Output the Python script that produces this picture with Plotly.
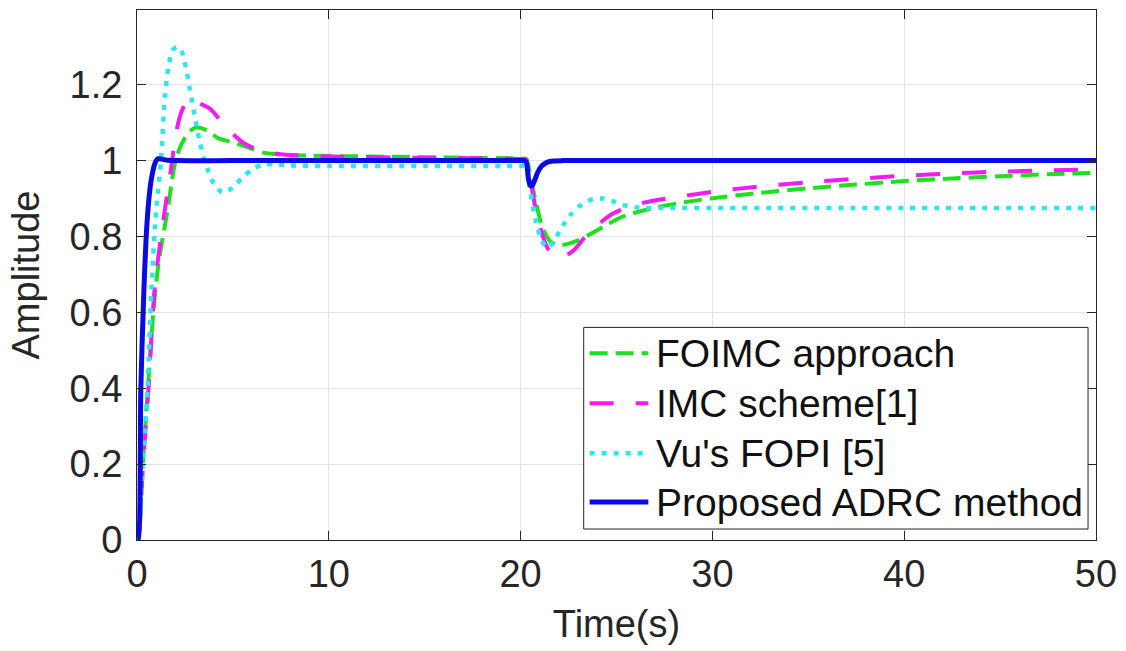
import plotly.graph_objects as go

# Step responses with a load disturbance applied at t = 20 s
t_foimc = [0, 0.05, 0.3, 0.57, 0.85, 1.1, 1.35, 1.6, 1.8, 1.97, 2.2, 2.5, 2.75, 3.05, 3.4, 3.8, 4.2, 4.7, 5.2, 5.9, 6.6, 7.5, 9, 12, 15, 18, 19.5, 20.0, 20.3,
           20.5, 20.8, 21.1, 21.5, 21.9, 22.4, 23.0, 23.6, 24.3, 25.2, 26.2, 27.2, 28.5, 30, 32.5, 35, 37.5, 40, 42.5, 45, 47.5, 50]
y_foimc = [0, 0, 0.2, 0.4, 0.6, 0.72, 0.8, 0.87, 0.94, 0.99, 1.03, 1.06, 1.077, 1.087, 1.085, 1.075, 1.06, 1.052, 1.045, 1.033, 1.021, 1.016, 1.013, 1.011, 1.009, 1.007, 1.006, 1.005, 1.004,
           0.96, 0.89, 0.83, 0.79, 0.777, 0.78, 0.79, 0.805, 0.825, 0.85, 0.866, 0.878, 0.89, 0.901, 0.915, 0.927, 0.937, 0.946, 0.953, 0.959, 0.964, 0.968]

t_imc = [0, 0.05, 0.3, 0.6, 0.93, 1.2, 1.45, 1.75, 2.0, 2.2, 2.45, 2.65, 2.9, 3.3, 3.8, 4.45, 5.0, 5.6, 6.1, 6.6, 7.3, 8.5, 10, 14, 18, 19.5, 20.0, 20.3,
         20.5, 20.8, 21.1, 21.4, 21.7, 22.0, 22.3, 22.8, 23.3, 24.0, 24.8, 25.6, 26.5, 28, 30, 32.5, 35, 37.5, 40, 42.5, 45, 47.5, 50]
y_imc = [0, 0, 0.19, 0.4, 0.67, 0.78, 0.87, 0.97, 1.06, 1.11, 1.145, 1.163, 1.16, 1.15, 1.137, 1.10, 1.07, 1.045, 1.033, 1.026, 1.018, 1.013, 1.011, 1.008, 1.006, 1.005, 1.004, 1.003,
         0.95, 0.87, 0.81, 0.77, 0.752, 0.745, 0.748, 0.765, 0.795, 0.83, 0.86, 0.877, 0.89, 0.903, 0.918, 0.932, 0.943, 0.952, 0.96, 0.966, 0.971, 0.974, 0.977]

t_fopi = [0, 0.05, 0.3, 0.55, 0.75, 1.0, 1.25, 1.45, 1.65, 1.85, 2.1, 2.35, 2.55, 2.75, 3.0, 3.27, 3.5, 3.7, 4.0, 4.45, 4.8, 5.2, 5.6, 6.1, 6.6, 7.2, 8.0, 10, 15, 19, 19.6, 20.0, 20.3,
          20.5, 20.8, 21.1, 21.4, 21.7, 22.1, 22.6, 23.2, 23.8, 24.3, 24.8, 25.4, 26.2, 27.5, 30, 40, 50]
y_fopi = [0, 0, 0.2, 0.4, 0.66, 0.87, 1.0, 1.166, 1.25, 1.29, 1.30, 1.285, 1.245, 1.19, 1.12, 1.05, 1.005, 0.974, 0.94, 0.916, 0.922, 0.94, 0.96, 0.98, 0.99, 0.99, 0.987, 0.986, 0.986, 0.986, 0.986, 0.986, 0.985,
          0.92, 0.84, 0.79, 0.77, 0.785, 0.82, 0.857, 0.885, 0.899, 0.9, 0.893, 0.882, 0.876, 0.875, 0.875, 0.875, 0.875]

t_adrc = [0, 0.05, 0.2, 0.36, 0.47, 0.57, 0.7, 0.8, 0.9, 1.0, 1.1, 1.3, 1.6, 2.0, 5, 10, 15, 19, 19.6, 20.0, 20.2, 20.3, 20.4, 20.5, 20.6, 20.75, 20.9, 21.1, 21.4, 21.7, 22.2, 23, 30, 40, 50]
y_adrc = [0, 0, 0.4, 0.66, 0.79, 0.87, 0.935, 0.965, 0.988, 1.0, 1.005, 1.004, 1.001, 1.0, 1.0, 1.0, 1.0, 1.0, 1.0, 1.0, 1.0, 0.995, 0.955, 0.935, 0.934, 0.95, 0.97, 0.986, 0.996, 0.999, 1.0, 1.0, 1.0, 1.0, 1.0]

names = ["FOIMC approach", "IMC scheme[1]", "Vu's FOPI [5]", "Proposed ADRC method"]
colors = ["#1fe01f", "#f21cf0", "#2ee6ee", "#0a0ae6"]
dashes = ["18px,8px", "24px,22px", "5px,7px", "solid"]
widths = [4, 4, 4.5, 5]
series = [(t_foimc, y_foimc), (t_imc, y_imc), (t_fopi, y_fopi), (t_adrc, y_adrc)]

FONT = "Liberation Sans, Arial, sans-serif"
AXIS_GREY = "#262626"
GRID_GREY = "#e3e3e3"

fig = go.Figure()
for (tx, ty), name, col, dsh, w in zip(series, names, colors, dashes, widths):
    fig.add_trace(go.Scatter(x=tx, y=ty, name=name, mode="lines",
                             line=dict(color=col, width=w, dash=dsh, shape="spline", smoothing=0.8),
                             showlegend=False))

axis_common = dict(
    showgrid=True, gridcolor=GRID_GREY, gridwidth=1,
    showline=True, linecolor=AXIS_GREY, linewidth=1, mirror="ticks",
    ticks="inside", ticklen=9, tickcolor=AXIS_GREY, tickwidth=1,
    zeroline=False,
    tickfont=dict(family=FONT, size=38, color=AXIS_GREY),
)

fig.update_xaxes(range=[0, 50], tickvals=[0, 10, 20, 30, 40, 50],
                 title=dict(text="Time(s)", font=dict(family=FONT, size=38, color=AXIS_GREY), standoff=16),
                 **axis_common)
fig.update_yaxes(range=[0, 1.397], tickvals=[0, 0.2, 0.4, 0.6, 0.8, 1, 1.2],
                 ticktext=["0", "0.2", "0.4", "0.6", "0.8", "1", "1.2"],
                 ticklabelstandoff=6,
                 title=dict(text="Amplitude", font=dict(family=FONT, size=38, color=AXIS_GREY), standoff=18),
                 **axis_common)

# Legend box drawn in paper coordinates of the plot area
LEG_X0, LEG_X1 = 0.4658, 0.9917
LEG_Y0, LEG_Y1 = 0.0207, 0.4011
ROW_Y = [0.3522, 0.2580, 0.1638, 0.0715]
SAMPLE_X0, SAMPLE_X1 = 0.4720, 0.5332
TEXT_X = 0.5390

shapes = [dict(type="rect", xref="paper", yref="paper", x0=LEG_X0, x1=LEG_X1, y0=LEG_Y0, y1=LEG_Y1,
               line=dict(color=AXIS_GREY, width=1), fillcolor="white", layer="above")]
annotations = []
for name, col, dsh, w, ry in zip(names, colors, dashes, widths, ROW_Y):
    shapes.append(dict(type="line", xref="paper", yref="paper", x0=SAMPLE_X0, x1=SAMPLE_X1, y0=ry, y1=ry,
                       line=dict(color=col, width=w, dash=dsh), layer="above"))
    annotations.append(dict(xref="paper", yref="paper", x=TEXT_X, y=ry, text=name, showarrow=False,
                            xanchor="left", yanchor="middle",
                            font=dict(family=FONT, size=39, color="#111111")))

fig.update_layout(
    width=1126, height=651,
    margin=dict(l=137, r=25, t=9, b=111),
    paper_bgcolor="white", plot_bgcolor="white",
    shapes=shapes, annotations=annotations,
)

fig.write_html("out.html")
